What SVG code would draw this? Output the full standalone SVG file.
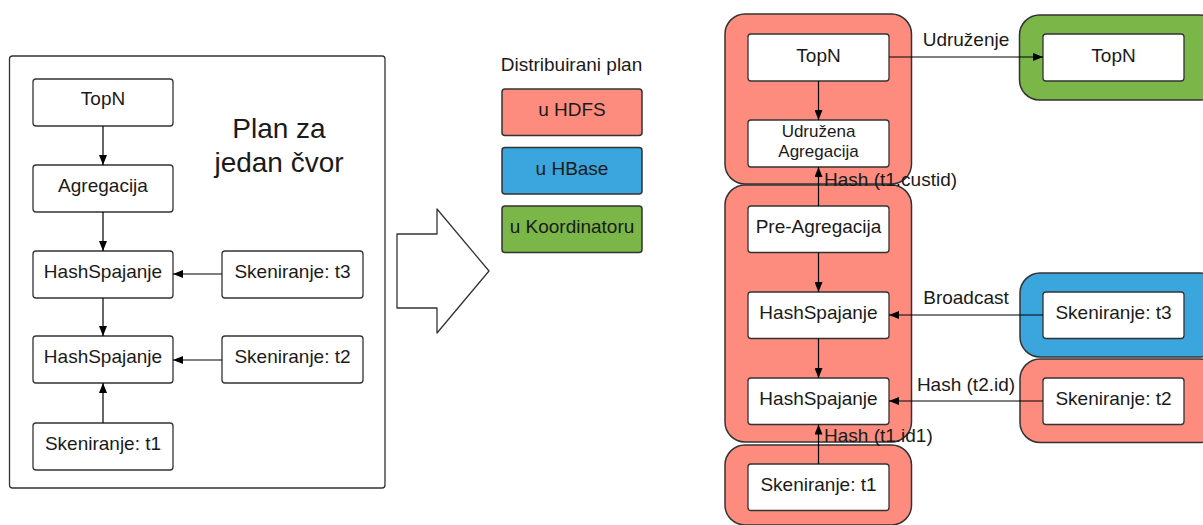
<svg xmlns="http://www.w3.org/2000/svg" width="1203" height="525" viewBox="0 0 1203 525">
<defs>
<marker id="ah" viewBox="0 0 10 8" refX="10" refY="4" markerWidth="10" markerHeight="8" markerUnits="userSpaceOnUse" orient="auto">
<path d="M0,0 L10,4 L0,8 Z" fill="#000"/>
</marker>
<style>
text{font-family:"Liberation Sans",Arial,sans-serif;fill:#1a1a1a;}
.t{font-size:19px;text-anchor:middle;}
.ts{font-size:17px;text-anchor:middle;}
.lbl{font-size:19px;}
.node{fill:#fff;stroke:#333;stroke-width:1.3;}
.cont{stroke:#333;stroke-width:1.5;}
.hdfs{fill:#fe8c7e;}
.hbase{fill:#3aa6dd;}
.koord{fill:#7ab648;}
.edge{stroke:#000;stroke-width:1.2;fill:none;marker-end:url(#ah);}
</style>
</defs>
<rect width="1203" height="525" fill="#fff"/>

<!-- Left panel -->
<g id="single-node-plan">
<rect x="9.5" y="56" width="375.5" height="432" rx="3" fill="#fff" stroke="#333" stroke-width="1.3"/>
<text x="279" y="138" style="font-size:28px;text-anchor:middle">Plan za</text>
<text x="279" y="172" style="font-size:28px;text-anchor:middle">jedan čvor</text>
</g>
<g id="l-topn"><rect class="node" x="33" y="79" width="140" height="47" rx="3"/><text class="t" x="103" y="105">TopN</text></g>
<g id="l-agg"><rect class="node" x="33" y="165" width="140" height="47" rx="3"/><text class="t" x="103" y="192">Agregacija</text></g>
<g id="l-hs1"><rect class="node" x="33" y="251" width="140" height="47" rx="3"/><text class="t" x="103" y="278">HashSpajanje</text></g>
<g id="l-hs2"><rect class="node" x="33" y="336" width="140" height="47" rx="3"/><text class="t" x="103" y="363">HashSpajanje</text></g>
<g id="l-t1"><rect class="node" x="33" y="423" width="140" height="47" rx="3"/><text class="t" x="103" y="450">Skeniranje: t1</text></g>
<g id="l-t3"><rect class="node" x="222" y="251" width="141" height="47" rx="3"/><text class="t" x="292.5" y="278">Skeniranje: t3</text></g>
<g id="l-t2"><rect class="node" x="222" y="336" width="141" height="47" rx="3"/><text class="t" x="292.5" y="363">Skeniranje: t2</text></g>

<!-- Big arrow -->
<g id="big-arrow">
<path d="M397,234 L437,234 L437,209 L489,271 L437,333 L437,308 L397,308 Z" fill="#fff" stroke="#333" stroke-width="1.3" stroke-linejoin="round"/>
</g>

<!-- Legend -->
<g id="legend">
<text x="571.5" y="71" class="t">Distribuirani plan</text>
</g>
<g id="leg-hdfs"><rect class="cont hdfs" x="502" y="89" width="140" height="46.5" rx="3"/><text class="t" x="572" y="116">u HDFS</text></g>
<g id="leg-hbase"><rect class="cont hbase" x="502" y="147.5" width="140" height="46.5" rx="3"/><text class="t" x="572" y="175">u HBase</text></g>
<g id="leg-koord"><rect class="cont koord" x="502" y="206" width="140" height="46.5" rx="3"/><text class="t" x="572" y="233">u Koordinatoru</text></g>

<!-- Right containers -->
<g id="containers">
<rect class="cont hdfs" x="725" y="14" width="186.5" height="170" rx="20"/>
<rect class="cont hdfs" x="725" y="185" width="186.5" height="257" rx="20"/>
<rect class="cont hdfs" x="725" y="445" width="186.5" height="80" rx="20"/>
<rect class="cont koord" x="1019.5" y="15" width="200" height="85" rx="20"/>
<rect class="cont hbase" x="1020" y="273" width="200" height="84" rx="20"/>
<rect class="cont hdfs" x="1020" y="359" width="200" height="83.5" rx="20"/>
</g>

<g id="r-topn"><rect class="node" x="748" y="34" width="141" height="47" rx="3"/><text class="t" x="818.5" y="61.5">TopN</text></g>
<g id="r-uagg"><rect class="node" x="748" y="120" width="141" height="47" rx="3"/><text class="ts" x="818.5" y="136.5">Udružena</text><text class="ts" x="818.5" y="156.5">Agregacija</text></g>
<g id="r-preagg"><rect class="node" x="748" y="206" width="141" height="46.5" rx="3"/><text class="t" x="818.5" y="233">Pre-Agregacija</text></g>
<g id="r-hs1"><rect class="node" x="748" y="292" width="141" height="46.5" rx="3"/><text class="t" x="818.5" y="319">HashSpajanje</text></g>
<g id="r-hs2"><rect class="node" x="748" y="378" width="141" height="46.5" rx="3"/><text class="t" x="818.5" y="405">HashSpajanje</text></g>
<g id="r-t1"><rect class="node" x="748" y="464" width="141" height="46.5" rx="3"/><text class="t" x="818.5" y="491">Skeniranje: t1</text></g>
<g id="r-topn2"><rect class="node" x="1043" y="34" width="141" height="47" rx="3"/><text class="t" x="1113.5" y="61.5">TopN</text></g>
<g id="r-t3"><rect class="node" x="1043" y="292" width="141" height="46.5" rx="3"/><text class="t" x="1113.5" y="319">Skeniranje: t3</text></g>
<g id="r-t2"><rect class="node" x="1043" y="378" width="141" height="46.5" rx="3"/><text class="t" x="1113.5" y="405">Skeniranje: t2</text></g>

<!-- Connectors -->
<g id="connectors">
<line class="edge" x1="103" y1="126" x2="103" y2="165"/>
<line class="edge" x1="103" y1="212" x2="103" y2="251"/>
<line class="edge" x1="103" y1="298" x2="103" y2="336"/>
<line class="edge" x1="103" y1="423" x2="103" y2="383"/>
<line class="edge" x1="222" y1="274" x2="173" y2="274"/>
<line class="edge" x1="222" y1="360" x2="173" y2="360"/>

<line class="edge" x1="889" y1="57" x2="1043" y2="57"/>
<line class="edge" x1="818.5" y1="81" x2="818.5" y2="120"/>
<line class="edge" x1="818.5" y1="206" x2="818.5" y2="167"/>
<line class="edge" x1="818.5" y1="252.5" x2="818.5" y2="292"/>
<line class="edge" x1="818.5" y1="338.5" x2="818.5" y2="378"/>
<line class="edge" x1="818.5" y1="464" x2="818.5" y2="424.5"/>
<line class="edge" x1="1043" y1="315" x2="889" y2="315"/>
<line class="edge" x1="1043" y1="401" x2="889" y2="401"/>

<text class="lbl" x="966" y="46" text-anchor="middle">Udruženje</text>
<text class="lbl" x="824" y="186">Hash (t1.custid)</text>
<text class="lbl" x="966" y="304" text-anchor="middle">Broadcast</text>
<text class="lbl" x="966" y="391" text-anchor="middle">Hash (t2.id)</text>
<text class="lbl" x="824" y="442">Hash (t1.id1)</text>
</g>
</svg>
